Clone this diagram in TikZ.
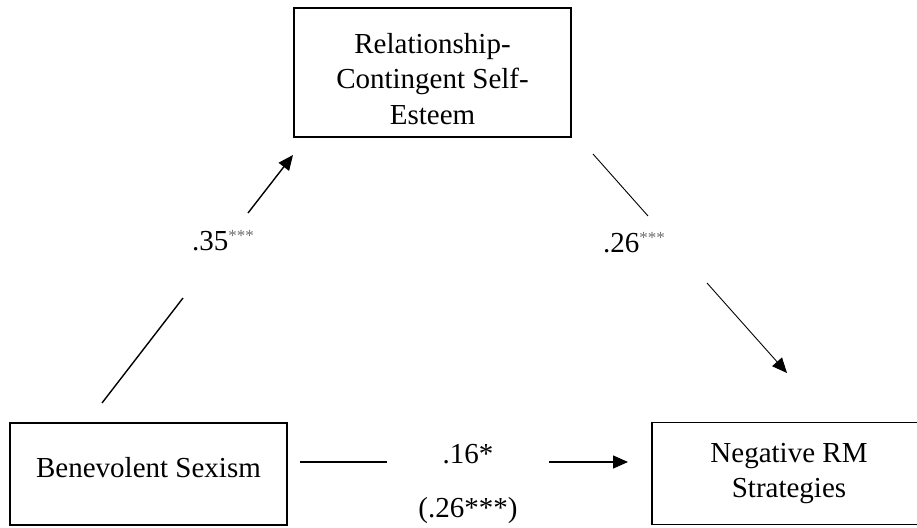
\documentclass[tikz,border=0pt]{standalone}
\usepackage{fontspec}
\setmainfont{Liberation Serif}
\usetikzlibrary{arrows.meta}
\definecolor{stargray}{RGB}{110,110,110}
\newcommand{\sigstars}{\raisebox{9pt}{\fontsize{17}{17}\selectfont\color{stargray}***}}
\tikzset{
  boxnode/.style={draw=black, line width=1.2pt, rectangle, inner sep=0pt},
  txt/.style={anchor=base, inner sep=0pt, font=\fontsize{29}{35}\selectfont},
  pathline/.style={draw=black, line width=1.4pt},
  thinpath/.style={draw=black, line width=0.9pt},
  headtip/.style={-{Triangle[length=15pt,width=13pt]}}
}
\begin{document}
\begin{tikzpicture}[x=1pt,y=-1pt]
\useasboundingbox (0,0) rectangle (917,527);
\clip (0,0) rectangle (917,527);
% boxes
\node[boxnode, minimum width=277pt, minimum height=129pt] (rcse) at (432.5,72.5) {};
\node[boxnode, minimum width=277pt, minimum height=102pt] (bsex) at (148.5,474) {};
\node[boxnode, minimum width=290pt, minimum height=102pt] (nrms) at (797,473.5) {};
% box texts
\node[txt] (rcse1) at (432.5,53) {Relationship-};
\node[txt] (rcse2) at (432.5,88.5) {Contingent Self-};
\node[txt] (rcse3) at (432.5,124) {Esteem};
\node[txt] (bsext) at (148.5,477) {Benevolent Sexism};
\node[txt] (nrms1) at (789,462) {Negative RM};
\node[txt] (nrms2) at (789,497) {Strategies};
% path labels
\node[txt, anchor=base west] (lab35) at (192,250) {.35\sigstars};
\node[txt, anchor=base west] (lab26) at (603,252) {.26\sigstars};
\node[txt] (lab16) at (468,463) {.16*};
\node[txt] (lab26b) at (468,517) {(.26***)};
% connector coordinates
\coordinate (a1) at (102,403);
\coordinate (a2) at (183,298);
\coordinate (a3) at (248,213);
\coordinate (a4) at (293,155);
\coordinate (b1) at (593,154);
\coordinate (b2) at (648,216);
\coordinate (b3) at (707,283);
\coordinate (b4) at (787,373);
\coordinate (c1) at (300,462);
\coordinate (c2) at (387,462);
\coordinate (c3) at (549,462);
\coordinate (c4) at (628,462);
% connectors
\draw[pathline] (a1) -- (a2);
\draw[pathline, headtip] (a3) -- (a4);
\draw[thinpath] (b1) -- (b2);
\draw[thinpath, headtip] (b3) -- (b4);
\draw[pathline] (c1) -- (c2);
\draw[pathline, headtip] (c3) -- (c4);
\end{tikzpicture}
\end{document}
